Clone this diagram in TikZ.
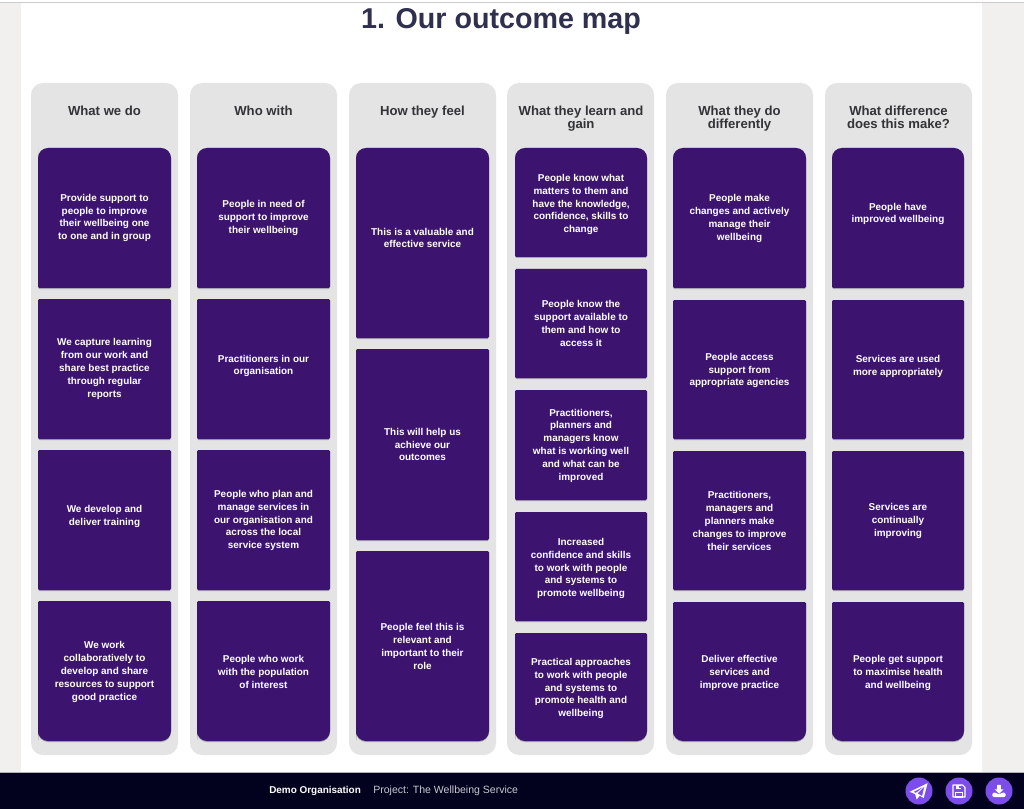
\documentclass[tikz,border=0pt]{standalone}
\usepackage{fontspec}
\setmainfont{Liberation Sans}
\usetikzlibrary{calc}
\definecolor{pagebg}{HTML}{F1F0EE}
\definecolor{panelbg}{HTML}{E4E4E4}
\definecolor{cardbg}{HTML}{3C1470}
\definecolor{cardsh}{HTML}{A9A6B4}
\definecolor{footbg}{HTML}{02021F}
\definecolor{btn}{HTML}{7C4DEA}
\definecolor{titlec}{HTML}{2F2F50}
\definecolor{headc}{HTML}{333338}
\definecolor{projc}{HTML}{C9C9D2}
\tikzset{
 cardtext/.style={text=white,align=center,inner sep=0pt,font=\fontsize{7.45}{9.6}\selectfont\bfseries},
 headtext/.style={text=headc,align=center,inner sep=0pt,anchor=north,font=\fontsize{9.85}{9.75}\selectfont\bfseries},
 panelbox/.style={fill=panelbg,rounded corners=9pt},
 btnc/.style={circle,fill=btn,minimum size=20.25pt,inner sep=0pt}
}
% kind: T top rounded, B bottom rounded, M plain; #7 is the text's vertical offset
\newcommand{\cardT}[7]{%
 \fill[cardsh] (#2,#3+1) [rounded corners=7.5pt] -- (#2,#3) -- (#4,#3) [rounded corners=1pt] -- (#4,#5+1) -- (#2,#5+1) -- cycle;
 \fill[cardbg] (#2,#5) [rounded corners=7.5pt] -- (#2,#3) -- (#4,#3) [rounded corners=1pt] -- (#4,#5) -- (#2,#5) -- cycle;
 \node[cardtext] (#1) at ({(#2+#4)/2},{(#3+#5)/2+#7}) {#6};}
\newcommand{\cardB}[7]{%
 \fill[cardsh] (#2,#5+1) [rounded corners=1pt] -- (#2,#3) -- (#4,#3) [rounded corners=7.5pt] -- (#4,#5+1) -- (#2,#5+1) [rounded corners=1pt] -- cycle;
 \fill[cardbg] (#2,#5) [rounded corners=1pt] -- (#2,#3) -- (#4,#3) [rounded corners=7.5pt] -- (#4,#5) -- (#2,#5) [rounded corners=1pt] -- cycle;
 \node[cardtext] (#1) at ({(#2+#4)/2},{(#3+#5)/2+#7}) {#6};}
\newcommand{\cardM}[7]{%
 \fill[cardsh,rounded corners=1pt] (#2,#3) rectangle (#4,#5+1);
 \fill[cardbg,rounded corners=1pt] (#2,#3) rectangle (#4,#5);
 \node[cardtext] (#1) at ({(#2+#4)/2},{(#3+#5)/2+#7}) {#6};}
\begin{document}
\begin{tikzpicture}[x=0.75pt,y=-0.75pt]
\useasboundingbox (0,0) rectangle (1024,809);
\fill[pagebg] (0,0) rectangle (1024,809);
\fill[white] (21,3) rectangle (982,772);
\fill[white] (0,0) rectangle (1024,2);
\fill[gray!40] (0,2) rectangle (1024,3);
\node[text=titlec,inner sep=0pt,font=\fontsize{21.5}{26}\selectfont\bfseries] (title) at (501,21) {1. Our outcome map};
% panels
\foreach \n/\a/\b in {pa/31/178,pb/190/337,pc/349/496,pd/507/654,pe/666/813,pf/825/972}{
 \fill[panelbox] (\a,83) rectangle (\b,755);
}
\node[headtext] (h1) at (104.5,105.5) {What we do};
\node[headtext] (h2) at (263.5,105.5) {Who with};
\node[headtext] (h3) at (422.5,105.5) {How they feel};
\node[headtext] (h4) at (581,105.5) {What they learn and\\gain};
\node[headtext] (h5) at (739.5,105.5) {What they do\\differently};
\node[headtext] (h6) at (898.5,105.5) {What difference\\does this make?};
% column 1
\cardT{a1}{38}{148}{171}{288}{Provide support to\\people to improve\\their wellbeing one\\to one and in group}{0}
\cardM{a2}{38}{299}{171}{439}{We capture learning\\from our work and\\share best practice\\through regular\\reports}{0}
\cardM{a3}{38}{450}{171}{590}{We develop and\\deliver training}{-3.5}
\cardB{a4}{38}{601}{171}{741}{We work\\collaboratively to\\develop and share\\resources to support\\good practice}{1}
% column 2
\cardT{b1}{197}{148}{330}{288}{People in need of\\support to improve\\their wellbeing}{0}
\cardM{b2}{197}{299}{330}{439}{Practitioners in our\\organisation}{-3}
\cardM{b3}{197}{450}{330}{590}{People who plan and\\manage services in\\our organisation and\\across the local\\service system}{0.5}
\cardB{b4}{197}{601}{330}{741}{People who work\\with the population\\of interest}{1}
% column 3
\cardT{c1}{356}{148}{489}{338}{This is a valuable and\\effective service}{-5}
\cardM{c2}{356}{349}{489}{540}{This will help us\\achieve our\\outcomes}{0}
\cardB{c3}{356}{551}{489}{741}{People feel this is\\relevant and\\important to their\\role}{0.5}
% column 4
\cardT{d1}{515}{148}{647}{257}{People know what\\matters to them and\\have the knowledge,\\confidence, skills to\\change}{2}
\cardM{d2}{515}{269}{647}{378}{People know the\\support available to\\them and how to\\access it}{0}
\cardM{d3}{515}{390}{647}{500}{Practitioners,\\planners and\\managers know\\what is working well\\and what can be\\improved}{0.5}
\cardM{d4}{515}{512}{647}{621}{Increased\\confidence and skills\\to work with people\\and systems to\\promote wellbeing}{2}
\cardB{d5}{515}{633}{647}{741}{Practical approaches\\to work with people\\and systems to\\promote health and\\wellbeing}{1.5}
% column 5
\cardT{e1}{673}{148}{806}{288}{People make\\changes and actively\\manage their\\wellbeing}{0.5}
\cardM{e2}{673}{300}{806}{439}{People access\\support from\\appropriate agencies}{1}
\cardM{e3}{673}{451}{806}{590}{Practitioners,\\managers and\\planners make\\changes to improve\\their services}{0.5}
\cardB{e4}{673}{602}{806}{741}{Deliver effective\\services and\\improve practice}{1.5}
% column 6
\cardT{f1}{832}{148}{964}{288}{People have\\improved wellbeing}{-4}
\cardM{f2}{832}{300}{964}{439}{Services are used\\more appropriately}{-3}
\cardM{f3}{832}{451}{964}{590}{Services are\\continually\\improving}{0.5}
\cardB{f4}{832}{602}{964}{741}{People get support\\to maximise health\\and wellbeing}{1.5}
% footer
\fill[footbg] (0,773) rectangle (1024,809);
\fill[gray!60] (0,772) rectangle (1024,773);
\node[text=white,inner sep=0pt,anchor=west,font=\fontsize{7.45}{10}\selectfont\bfseries] (org) at (269,790.5) {Demo Organisation};
\node[text=projc,inner sep=0pt,anchor=west,font=\fontsize{7.9}{10}\selectfont] (proj) at (373,790.5) {Project: The Wellbeing Service};
\node[btnc] (send) at (919,791) {};
\node[btnc] (save) at (959,791) {};
\node[btnc] (down) at (999,791) {};
% plane
\begin{scope}[shift={(919,791)},scale=.78]
 \fill[white,even odd rule] (11,-10) -- (-12,1) -- (-5,4) -- (-3,11) -- (1,6) -- (6,9) -- cycle
   (7,-6) -- (-7,1) -- (-4,2.5) -- cycle (7,-6) -- (-2,3) -- (4,6.5) -- cycle;
\end{scope}
% floppy
\begin{scope}[shift={(959,791)},scale=.6]
 \draw[white,line width=.9pt,line join=round] (-9,-10) -- (6,-10) -- (10,-6) -- (10,10) -- (-10,10) -- (-10,-10) -- cycle;
 \fill[white] (-5,-10) rectangle (4,-3);
 \fill[btn] (0,-8) rectangle (3,-4.5);
 \draw[white,line width=.8pt] (-6,10) rectangle (6,3);
\end{scope}
% download
\begin{scope}[shift={(999,791)},scale=.55]
 \fill[white] (-3.5,-11) rectangle (3.5,-3) (-8,-3) -- (8,-3) -- (0,5) -- cycle;
 \fill[white,rounded corners=1pt] (-12,3) -- (-5,3) -- (0,7) -- (5,3) -- (12,3) -- (12,11) -- (-12,11) -- cycle;
\end{scope}
\end{tikzpicture}
\end{document}
